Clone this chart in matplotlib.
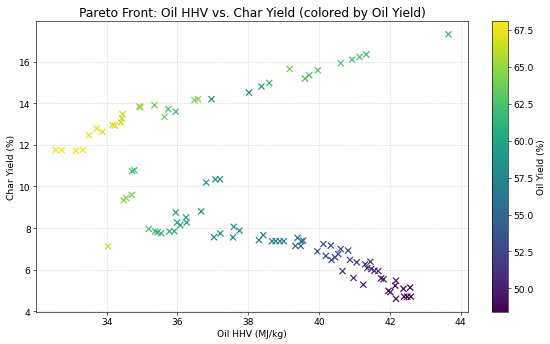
import matplotlib
matplotlib.use("Agg")
import matplotlib.pyplot as plt
import numpy as np

# upper branch + lower branch of the Pareto front
oil_hhv = [
    32.56, 32.73, 33.13, 33.33, 33.50, 33.72, 33.88, 34.17, 34.23, 34.40,
    34.43, 34.45, 34.92, 34.95, 35.35, 35.63, 35.74, 35.95, 36.48, 36.58,
    36.96, 38.02, 38.37, 38.59, 39.17, 39.60, 39.72, 39.96, 40.61, 40.93,
    41.14, 41.33, 43.65,
    34.72, 34.78, 34.48, 34.55, 34.71, 34.04, 35.19, 35.37, 35.44, 35.54,
    35.77, 35.91, 35.95, 35.99, 36.08, 36.24, 36.26, 36.67, 36.81, 37.07,
    37.20, 37.03, 37.21, 37.59, 37.57, 37.75, 38.30, 38.42, 38.67, 38.77,
    38.89, 39.00, 39.39, 39.33, 39.50, 39.48, 39.55, 39.95, 40.12, 40.19,
    40.33, 40.35, 40.45, 40.54, 40.61, 40.82, 40.87, 41.06, 40.66, 40.97,
    41.25, 41.30, 41.36, 41.45, 41.47, 41.56, 41.67, 41.75, 41.82, 41.96,
    42.01, 42.17, 42.15, 42.17, 42.38, 42.57, 42.40, 42.49, 42.59,
]
char_yield = [
    11.75, 11.75, 11.72, 11.76, 12.47, 12.79, 12.63, 12.96, 12.93, 13.08,
    13.27, 13.48, 13.85, 13.82, 13.91, 13.35, 13.72, 13.60, 14.15, 14.20,
    14.20, 14.52, 14.81, 14.98, 15.65, 15.19, 15.35, 15.59, 15.93, 16.10,
    16.23, 16.35, 17.32,
    10.74, 10.78, 9.34, 9.45, 9.60, 7.12, 7.96, 7.84, 7.80, 7.75,
    7.84, 7.85, 8.75, 8.27, 8.14, 8.51, 8.27, 8.80, 10.19, 10.34,
    10.35, 7.56, 7.74, 8.06, 7.55, 7.88, 7.42, 7.66, 7.37, 7.37,
    7.37, 7.37, 7.53, 7.14, 7.37, 7.14, 7.40, 6.88, 7.23, 6.66,
    7.16, 6.47, 6.59, 6.75, 6.99, 6.92, 6.47, 6.35, 5.93, 5.60,
    5.28, 6.26, 6.07, 6.38, 6.03, 5.95, 5.93, 5.58, 5.54, 4.98,
    4.92, 5.47, 5.23, 4.60, 5.08, 5.14, 4.70, 4.70, 4.70,
]
oil_yield = [
    67.8, 67.7, 67.6, 67.5, 67.3, 67.4, 67.2, 67.0, 67.1, 66.3,
    66.0, 66.4, 65.0, 64.8, 63.5, 64.0, 62.5, 62.0, 64.0, 64.3,
    59.0, 57.0, 58.5, 61.5, 64.0, 62.3, 62.5, 62.7, 63.0, 62.3,
    62.5, 62.0, 61.8,
    62.5, 62.3, 64.8, 64.5, 63.8, 66.5, 62.0, 61.7, 61.3, 61.5,
    61.0, 61.3, 59.8, 60.0, 59.8, 59.8, 59.5, 59.0, 58.5, 58.8,
    58.5, 58.0, 58.3, 58.5, 58.0, 58.2, 56.5, 57.0, 57.0, 56.8,
    56.8, 56.6, 55.8, 55.0, 56.0, 55.5, 56.3, 53.5, 53.5, 52.8,
    53.3, 52.5, 52.8, 52.5, 53.3, 52.5, 52.0, 51.5, 50.8, 50.8,
    50.0, 51.3, 50.8, 51.8, 50.8, 50.3, 50.5, 49.7, 50.0, 49.0,
    49.2, 49.7, 49.2, 48.6, 48.8, 48.7, 48.5, 48.6, 48.5,
]

fig = plt.figure(figsize=(10, 6.2727), dpi=55)
ax = fig.add_axes([0.0655, 0.0928, 0.7855, 0.8432])
cax = fig.add_axes([0.8945, 0.0928, 0.029, 0.8432])

sc = ax.scatter(oil_hhv, char_yield, c=oil_yield, cmap="viridis", marker="x",
                s=64, linewidths=1.6, vmin=48.4, vmax=68.1)
cb = fig.colorbar(sc, cax=cax)
cb.set_label("Oil Yield (%)", fontsize=12)
cb.ax.tick_params(labelsize=12)

ax.set_xlabel("Oil HHV (MJ/kg)", fontsize=12)
ax.set_ylabel("Char Yield (%)", fontsize=12)
ax.set_title("Pareto Front: Oil HHV vs. Char Yield (colored by Oil Yield)", fontsize=16)
ax.tick_params(labelsize=12)
ax.grid(linestyle=":", color="0.7", alpha=0.9)

fig.savefig("out.png", dpi=55)
